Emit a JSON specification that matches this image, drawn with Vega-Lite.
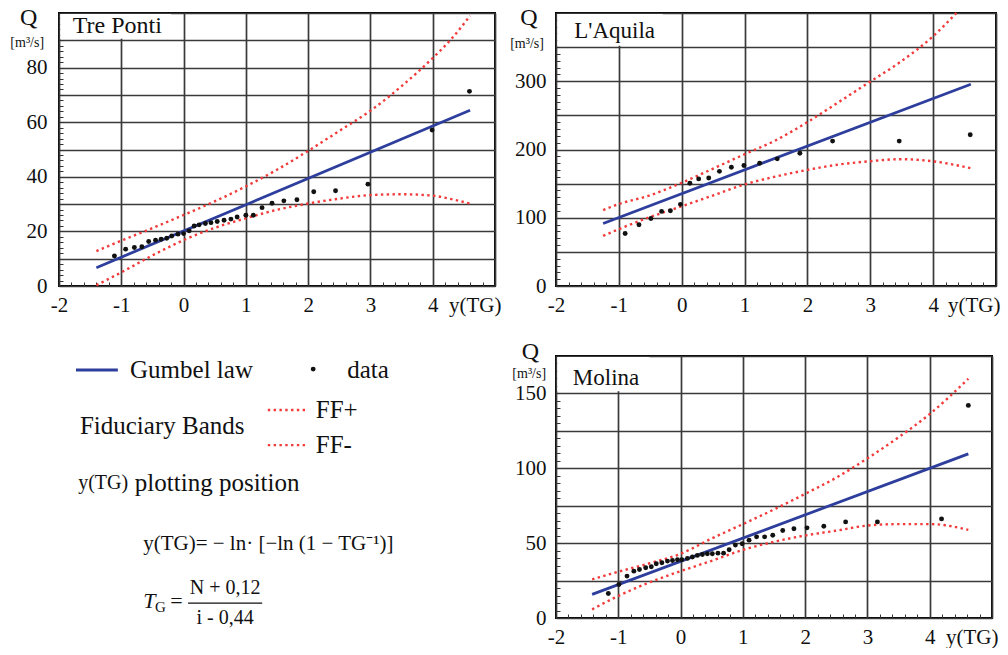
{
  "$schema": "https://vega.github.io/schema/vega-lite/v6.json",
  "background": "white",
  "padding": {"left": 9, "top": 1, "right": 5, "bottom": 0},
  "columns": 2,
  "align": "each",
  "spacing": {"row": 22, "column": 7},
  "datasets": {
    "one": [{}],
    "tp_data": [
      {"yTG": -1.11, "Q": 11.0}, {"yTG": -0.93, "Q": 13.5}, {"yTG": -0.79, "Q": 14.1}, {"yTG": -0.67, "Q": 14.4},
      {"yTG": -0.56, "Q": 16.3}, {"yTG": -0.45, "Q": 16.8}, {"yTG": -0.36, "Q": 17.1}, {"yTG": -0.27, "Q": 17.5},
      {"yTG": -0.19, "Q": 18.3}, {"yTG": -0.09, "Q": 19.0}, {"yTG": 0.0, "Q": 19.2}, {"yTG": 0.09, "Q": 20.2},
      {"yTG": 0.17, "Q": 22.0}, {"yTG": 0.25, "Q": 22.4}, {"yTG": 0.35, "Q": 22.9}, {"yTG": 0.44, "Q": 23.2},
      {"yTG": 0.54, "Q": 23.6}, {"yTG": 0.65, "Q": 24.1}, {"yTG": 0.76, "Q": 24.5}, {"yTG": 0.86, "Q": 25.3},
      {"yTG": 1.0, "Q": 25.9}, {"yTG": 1.12, "Q": 25.9}, {"yTG": 1.26, "Q": 28.7}, {"yTG": 1.42, "Q": 30.3},
      {"yTG": 1.61, "Q": 31.2}, {"yTG": 1.82, "Q": 31.6}, {"yTG": 2.09, "Q": 34.5}, {"yTG": 2.44, "Q": 34.9},
      {"yTG": 2.96, "Q": 37.3}, {"yTG": 3.99, "Q": 57.1}, {"yTG": 4.59, "Q": 71.3}
    ],
    "tp_gum": [{"yTG": -1.4, "Q": 6.7}, {"yTG": 4.6, "Q": 64.4}],
    "tp_ffp": [
      {"yTG": -1.4, "Q": 12.8}, {"yTG": -1.0, "Q": 16.6}, {"yTG": -0.5, "Q": 21.2}, {"yTG": 0.0, "Q": 26.0},
      {"yTG": 0.5, "Q": 31.0}, {"yTG": 1.0, "Q": 36.5}, {"yTG": 1.5, "Q": 42.6}, {"yTG": 2.0, "Q": 49.5},
      {"yTG": 2.5, "Q": 56.8}, {"yTG": 3.0, "Q": 64.2}, {"yTG": 3.5, "Q": 73.2}, {"yTG": 4.0, "Q": 83.5},
      {"yTG": 4.3, "Q": 90.5}, {"yTG": 4.6, "Q": 99.0}
    ],
    "tp_ffm": [
      {"yTG": -1.4, "Q": 0.3}, {"yTG": -1.0, "Q": 5.0}, {"yTG": -0.5, "Q": 11.2}, {"yTG": 0.0, "Q": 16.8},
      {"yTG": 0.5, "Q": 21.3}, {"yTG": 1.0, "Q": 24.8}, {"yTG": 1.5, "Q": 27.9}, {"yTG": 2.0, "Q": 30.2},
      {"yTG": 2.5, "Q": 32.0}, {"yTG": 3.0, "Q": 33.3}, {"yTG": 3.5, "Q": 33.6}, {"yTG": 4.0, "Q": 33.1},
      {"yTG": 4.3, "Q": 31.8}, {"yTG": 4.6, "Q": 30.2}
    ],
    "la_data": [
      {"yTG": -0.90, "Q": 77}, {"yTG": -0.68, "Q": 89.7}, {"yTG": -0.49, "Q": 99}, {"yTG": -0.32, "Q": 109.3},
      {"yTG": -0.18, "Q": 110.3}, {"yTG": -0.02, "Q": 119.6}, {"yTG": 0.13, "Q": 150.5}, {"yTG": 0.27, "Q": 156.9},
      {"yTG": 0.43, "Q": 158.3}, {"yTG": 0.60, "Q": 168}, {"yTG": 0.79, "Q": 174}, {"yTG": 0.99, "Q": 176.5},
      {"yTG": 1.24, "Q": 179.9}, {"yTG": 1.52, "Q": 186.3}, {"yTG": 1.88, "Q": 194.6}, {"yTG": 2.40, "Q": 212.3},
      {"yTG": 3.46, "Q": 212.3}, {"yTG": 4.59, "Q": 221.6}
    ],
    "la_gum": [{"yTG": -1.25, "Q": 91.6}, {"yTG": 4.6, "Q": 295.6}],
    "la_ffp": [
      {"yTG": -1.25, "Q": 111.3}, {"yTG": -1.0, "Q": 120.1}, {"yTG": -0.52, "Q": 132.4}, {"yTG": -0.02, "Q": 150.5},
      {"yTG": 0.49, "Q": 171.6}, {"yTG": 0.99, "Q": 192.6}, {"yTG": 1.49, "Q": 213.2}, {"yTG": 2.0, "Q": 240.2},
      {"yTG": 2.5, "Q": 269.6}, {"yTG": 2.99, "Q": 299}, {"yTG": 3.48, "Q": 328.4}, {"yTG": 3.99, "Q": 365.2},
      {"yTG": 4.37, "Q": 400}
    ],
    "la_ffm": [
      {"yTG": -1.25, "Q": 73.5}, {"yTG": -1.0, "Q": 83.3}, {"yTG": -0.52, "Q": 100.5}, {"yTG": -0.02, "Q": 116.2},
      {"yTG": 0.49, "Q": 132.4}, {"yTG": 0.99, "Q": 148.5}, {"yTG": 1.49, "Q": 160.3}, {"yTG": 2.0, "Q": 170.1},
      {"yTG": 2.5, "Q": 178}, {"yTG": 2.99, "Q": 182.8}, {"yTG": 3.48, "Q": 185.8}, {"yTG": 3.99, "Q": 182.8},
      {"yTG": 4.6, "Q": 172.5}
    ],
    "mo_data": [
      {"yTG": -1.16, "Q": 16.4}, {"yTG": -0.99, "Q": 22.4}, {"yTG": -0.86, "Q": 28}, {"yTG": -0.75, "Q": 31.3},
      {"yTG": -0.66, "Q": 32.4}, {"yTG": -0.56, "Q": 33.6}, {"yTG": -0.47, "Q": 34.2}, {"yTG": -0.39, "Q": 36.2},
      {"yTG": -0.30, "Q": 36.9}, {"yTG": -0.21, "Q": 38}, {"yTG": -0.13, "Q": 38.4}, {"yTG": -0.05, "Q": 38.9},
      {"yTG": 0.02, "Q": 38.9}, {"yTG": 0.11, "Q": 39.8}, {"yTG": 0.19, "Q": 40.7}, {"yTG": 0.27, "Q": 41.8},
      {"yTG": 0.35, "Q": 42.4}, {"yTG": 0.43, "Q": 42.9}, {"yTG": 0.51, "Q": 42.9}, {"yTG": 0.60, "Q": 43.3},
      {"yTG": 0.69, "Q": 43.3}, {"yTG": 0.78, "Q": 45.6}, {"yTG": 0.88, "Q": 48.7}, {"yTG": 0.99, "Q": 49.6},
      {"yTG": 1.10, "Q": 52}, {"yTG": 1.22, "Q": 54.2}, {"yTG": 1.35, "Q": 54.2}, {"yTG": 1.48, "Q": 55.3},
      {"yTG": 1.64, "Q": 58.4}, {"yTG": 1.82, "Q": 59.6}, {"yTG": 2.03, "Q": 60.2}, {"yTG": 2.30, "Q": 61.3},
      {"yTG": 2.65, "Q": 64.2}, {"yTG": 3.16, "Q": 64.2}, {"yTG": 4.19, "Q": 66.2}, {"yTG": 4.62, "Q": 142}
    ],
    "mo_gum": [{"yTG": -1.42, "Q": 15.8}, {"yTG": 4.62, "Q": 109.6}],
    "mo_ffp": [
      {"yTG": -1.42, "Q": 25.8}, {"yTG": -1.0, "Q": 30.9}, {"yTG": -0.51, "Q": 36.4}, {"yTG": 0.0, "Q": 42.9},
      {"yTG": 0.5, "Q": 53.1}, {"yTG": 1.01, "Q": 62.9}, {"yTG": 1.52, "Q": 72.9}, {"yTG": 2.0, "Q": 82.9},
      {"yTG": 2.51, "Q": 94}, {"yTG": 3.01, "Q": 106.9}, {"yTG": 3.5, "Q": 120.7}, {"yTG": 4.02, "Q": 136.9},
      {"yTG": 4.62, "Q": 159.8}
    ],
    "mo_ffm": [
      {"yTG": -1.42, "Q": 5.8}, {"yTG": -1.0, "Q": 14.7}, {"yTG": -0.51, "Q": 23.6}, {"yTG": 0.0, "Q": 31.3},
      {"yTG": 0.5, "Q": 38.2}, {"yTG": 1.01, "Q": 45.6}, {"yTG": 1.52, "Q": 51.1}, {"yTG": 2.0, "Q": 55.1},
      {"yTG": 2.51, "Q": 58.4}, {"yTG": 3.01, "Q": 61.8}, {"yTG": 3.5, "Q": 62.7}, {"yTG": 4.02, "Q": 62.7},
      {"yTG": 4.62, "Q": 58.9}
    ]
  },
  "concat": [
    {
      "width": 436, "height": 273,
      "layer": [
        {"data": {"name": "one"}, "mark": {"type": "rect", "fill": "white"},
          "encoding": {
            "x": {"datum": -1.98, "type": "quantitative", "scale": {"domain": [-2, 5], "nice": false, "zero": false},
              "axis": {"title": null, "tickCount": 200,
                "values": [-2, -1.8, -1.6, -1.4, -1.2, -1, -0.8, -0.6, -0.4, -0.2, 0, 0.2, 0.4, 0.6, 0.8, 1, 1.2, 1.4, 1.6, 1.8, 2, 2.2, 2.4, 2.6, 2.8, 3, 3.2, 3.4, 3.6, 3.8, 4, 4.2, 4.4, 4.6, 4.8, 5],
                "labelExpr": "datum.value === 5 ? 'y(TG)' : (datum.value % 1 === 0 ? '' + datum.value : '')",
                "gridOpacity": {"condition": {"test": "datum.value % 1 === 0", "value": 1}, "value": 0},
                "labelAlign": {"condition": {"test": "datum.value === 5", "value": "right"}, "value": "center"},
                "labelOffset": {"condition": {"test": "datum.value === 5", "value": 6}, "value": 0},
                "labelFlush": false, "labelOverlap": false, "labelBound": false}},
            "x2": {"datum": -0.2},
            "y": {"datum": 90.6, "type": "quantitative", "scale": {"domain": [0, 100], "nice": false, "zero": false},
              "axis": {"title": null, "tickCount": 200,
                "values": [0, 2, 4, 6, 8, 10, 12, 14, 16, 18, 20, 22, 24, 26, 28, 30, 32, 34, 36, 38, 40, 42, 44, 46, 48, 50, 52, 54, 56, 58, 60, 62, 64, 66, 68, 70, 72, 74, 76, 78, 80, 82, 84, 86, 88, 90, 92, 94, 96, 98, 100],
                "gridOpacity": {"condition": {"test": "datum.value % 10 === 0", "value": 1}, "value": 0},
                "labelExpr": "datum.value % 20 === 0 && datum.value < 100 ? '' + datum.value : ''", "labelPadding": 16, "labelOverlap": false}},
            "y2": {"datum": 99.6}}},
        {"data": {"name": "tp_ffp"}, "mark": {"type": "line", "color": "#f23a3a", "strokeWidth": 2.4, "strokeDash": [2.4, 3.4], "interpolate": "monotone"},
          "encoding": {"x": {"field": "yTG", "type": "quantitative"}, "y": {"field": "Q", "type": "quantitative"}}},
        {"data": {"name": "tp_ffm"}, "mark": {"type": "line", "color": "#f23a3a", "strokeWidth": 2.4, "strokeDash": [2.4, 3.4], "interpolate": "monotone"},
          "encoding": {"x": {"field": "yTG", "type": "quantitative"}, "y": {"field": "Q", "type": "quantitative"}}},
        {"data": {"name": "tp_gum"}, "mark": {"type": "line", "color": "#2d3e9c", "strokeWidth": 2.8},
          "encoding": {"x": {"field": "yTG", "type": "quantitative"}, "y": {"field": "Q", "type": "quantitative"}}},
        {"data": {"name": "tp_data"}, "mark": {"type": "point", "filled": true, "color": "#111", "size": 24, "opacity": 1},
          "encoding": {"x": {"field": "yTG", "type": "quantitative"}, "y": {"field": "Q", "type": "quantitative"}}},
        {"data": {"name": "one"}, "mark": {"type": "text", "text": "Tre Ponti", "align": "left", "baseline": "middle", "fontSize": 24},
          "encoding": {"x": {"datum": -1.78}, "y": {"datum": 95.4}}},
        {"data": {"name": "one"}, "mark": {"type": "text", "text": "Q", "align": "center", "baseline": "middle", "fontSize": 24},
          "encoding": {"x": {"datum": -2.485}, "y": {"datum": 98.2}}},
        {"data": {"name": "one"}, "mark": {"type": "text", "text": "[m³/s]", "align": "center", "baseline": "middle", "fontSize": 14},
          "encoding": {"x": {"datum": -2.51}, "y": {"datum": 89}}}
      ]
    },
    {
      "width": 440, "height": 273,
      "layer": [
        {"data": {"name": "one"}, "mark": {"type": "rect", "fill": "white"},
          "encoding": {
            "x": {"datum": -1.98, "type": "quantitative", "scale": {"domain": [-2, 5], "nice": false, "zero": false},
              "axis": {"title": null, "tickCount": 200,
                "values": [-2, -1.8, -1.6, -1.4, -1.2, -1, -0.8, -0.6, -0.4, -0.2, 0, 0.2, 0.4, 0.6, 0.8, 1, 1.2, 1.4, 1.6, 1.8, 2, 2.2, 2.4, 2.6, 2.8, 3, 3.2, 3.4, 3.6, 3.8, 4, 4.2, 4.4, 4.6, 4.8, 5],
                "labelExpr": "datum.value === 5 ? 'y(TG)' : (datum.value % 1 === 0 ? '' + datum.value : '')",
                "gridOpacity": {"condition": {"test": "datum.value % 1 === 0", "value": 1}, "value": 0},
                "labelAlign": {"condition": {"test": "datum.value === 5", "value": "right"}, "value": "center"},
                "labelOffset": {"condition": {"test": "datum.value === 5", "value": 4}, "value": 0},
                "labelFlush": false, "labelOverlap": false, "labelBound": false}},
            "x2": {"datum": -0.3},
            "y": {"datum": 352, "type": "quantitative", "scale": {"domain": [0, 400], "nice": false, "zero": false},
              "axis": {"title": null, "tickCount": 200,
                "values": [0, 10, 20, 30, 40, 50, 60, 70, 80, 90, 100, 110, 120, 130, 140, 150, 160, 170, 180, 190, 200, 210, 220, 230, 240, 250, 260, 270, 280, 290, 300, 310, 320, 330, 340, 350, 360, 370, 380, 390, 400],
                "gridOpacity": {"condition": {"test": "datum.value % 50 === 0", "value": 1}, "value": 0},
                "labelExpr": "datum.value % 100 === 0 && datum.value < 400 ? '' + datum.value : ''", "labelPadding": 14, "labelOverlap": false}},
            "y2": {"datum": 398.5}}},
        {"data": {"name": "la_ffp"}, "mark": {"type": "line", "color": "#f23a3a", "strokeWidth": 2.4, "strokeDash": [2.4, 3.4], "interpolate": "monotone"},
          "encoding": {"x": {"field": "yTG", "type": "quantitative"}, "y": {"field": "Q", "type": "quantitative"}}},
        {"data": {"name": "la_ffm"}, "mark": {"type": "line", "color": "#f23a3a", "strokeWidth": 2.4, "strokeDash": [2.4, 3.4], "interpolate": "monotone"},
          "encoding": {"x": {"field": "yTG", "type": "quantitative"}, "y": {"field": "Q", "type": "quantitative"}}},
        {"data": {"name": "la_gum"}, "mark": {"type": "line", "color": "#2d3e9c", "strokeWidth": 2.8},
          "encoding": {"x": {"field": "yTG", "type": "quantitative"}, "y": {"field": "Q", "type": "quantitative"}}},
        {"data": {"name": "la_data"}, "mark": {"type": "point", "filled": true, "color": "#111", "size": 24, "opacity": 1},
          "encoding": {"x": {"field": "yTG", "type": "quantitative"}, "y": {"field": "Q", "type": "quantitative"}}},
        {"data": {"name": "one"}, "mark": {"type": "text", "text": "L'Aquila", "align": "left", "baseline": "middle", "fontSize": 23},
          "encoding": {"x": {"datum": -1.71}, "y": {"datum": 373.6}}},
        {"data": {"name": "one"}, "mark": {"type": "text", "text": "Q", "align": "center", "baseline": "middle", "fontSize": 24},
          "encoding": {"x": {"datum": -2.43}, "y": {"datum": 392}}},
        {"data": {"name": "one"}, "mark": {"type": "text", "text": "[m³/s]", "align": "center", "baseline": "middle", "fontSize": 14},
          "encoding": {"x": {"datum": -2.46}, "y": {"datum": 354}}}
      ]
    },
    {
      "width": 436, "height": 262,
      "view": {"stroke": null},
      "data": {"name": "one"},
      "layer": [
        {"mark": {"type": "rule", "color": "#2d3e9c", "strokeWidth": 3},
          "encoding": {"x": {"datum": 3.9, "type": "quantitative", "scale": {"domain": [0, 100]}, "axis": null}, "x2": {"datum": 13.5},
            "y": {"datum": 94.7, "type": "quantitative", "scale": {"domain": [0, 100]}, "axis": null}}},
        {"mark": {"type": "text", "text": "Gumbel law", "align": "left", "baseline": "middle", "fontSize": 25},
          "encoding": {"x": {"datum": 16.3, "axis": null}, "y": {"datum": 94.7, "axis": null}}},
        {"mark": {"type": "point", "filled": true, "color": "#111", "size": 24, "opacity": 1},
          "encoding": {"x": {"datum": 58.3, "axis": null}, "y": {"datum": 95, "axis": null}}},
        {"mark": {"type": "text", "text": "data", "align": "left", "baseline": "middle", "fontSize": 25},
          "encoding": {"x": {"datum": 66.1, "axis": null}, "y": {"datum": 94.7, "axis": null}}},
        {"mark": {"type": "text", "text": "Fiduciary Bands", "align": "left", "baseline": "middle", "fontSize": 25},
          "encoding": {"x": {"datum": 4.8, "axis": null}, "y": {"datum": 73.3, "axis": null}}},
        {"mark": {"type": "rule", "color": "#f23a3a", "strokeWidth": 2.4, "strokeDash": [2.4, 3.4]},
          "encoding": {"x": {"datum": 47.9, "axis": null}, "x2": {"datum": 57.1}, "y": {"datum": 79.4, "axis": null}}},
        {"mark": {"type": "text", "text": "FF+", "align": "left", "baseline": "middle", "fontSize": 25},
          "encoding": {"x": {"datum": 58.9, "axis": null}, "y": {"datum": 79.4, "axis": null}}},
        {"mark": {"type": "rule", "color": "#f23a3a", "strokeWidth": 2.4, "strokeDash": [2.4, 3.4]},
          "encoding": {"x": {"datum": 47.9, "axis": null}, "x2": {"datum": 57.1}, "y": {"datum": 66.0, "axis": null}}},
        {"mark": {"type": "text", "text": "FF-", "align": "left", "baseline": "middle", "fontSize": 25},
          "encoding": {"x": {"datum": 58.9, "axis": null}, "y": {"datum": 66.0, "axis": null}}},
        {"mark": {"type": "text", "text": "y(TG)", "align": "left", "baseline": "middle", "fontSize": 20},
          "encoding": {"x": {"datum": 4.4, "axis": null}, "y": {"datum": 51.5, "axis": null}}},
        {"mark": {"type": "text", "text": "plotting position", "align": "left", "baseline": "middle", "fontSize": 25},
          "encoding": {"x": {"datum": 17.4, "axis": null}, "y": {"datum": 51.5, "axis": null}}},
        {"mark": {"type": "text", "text": "y(TG)= − ln· [−ln (1 − TG⁻¹)]", "align": "left", "baseline": "middle", "fontSize": 21},
          "encoding": {"x": {"datum": 19.3, "axis": null}, "y": {"datum": 28.2, "axis": null}}},
        {"mark": {"type": "text", "text": "T", "align": "left", "baseline": "middle", "fontSize": 22, "fontStyle": "italic"},
          "encoding": {"x": {"datum": 19.3, "axis": null}, "y": {"datum": 6.5, "axis": null}}},
        {"mark": {"type": "text", "text": "G", "align": "left", "baseline": "middle", "fontSize": 15},
          "encoding": {"x": {"datum": 22.0, "axis": null}, "y": {"datum": 4.3, "axis": null}}},
        {"mark": {"type": "text", "text": "=", "align": "left", "baseline": "middle", "fontSize": 22},
          "encoding": {"x": {"datum": 25.5, "axis": null}, "y": {"datum": 6.5, "axis": null}}},
        {"mark": {"type": "text", "text": "N + 0,12", "align": "center", "baseline": "middle", "fontSize": 20},
          "encoding": {"x": {"datum": 38.1, "axis": null}, "y": {"datum": 11.5, "axis": null}}},
        {"mark": {"type": "rule", "color": "#111", "strokeWidth": 1.3},
          "encoding": {"x": {"datum": 29.6, "axis": null}, "x2": {"datum": 46.6}, "y": {"datum": 5.7, "axis": null}}},
        {"mark": {"type": "text", "text": "i - 0,44", "align": "center", "baseline": "middle", "fontSize": 20},
          "encoding": {"x": {"datum": 38.1, "axis": null}, "y": {"datum": 0, "axis": null}}}
      ]
    },
    {
      "width": 436, "height": 262,
      "layer": [
        {"data": {"name": "one"}, "mark": {"type": "rect", "fill": "white"},
          "encoding": {
            "x": {"datum": -1.98, "type": "quantitative", "scale": {"domain": [-2, 5], "nice": false, "zero": false},
              "axis": {"title": null, "tickCount": 200,
                "values": [-2, -1.8, -1.6, -1.4, -1.2, -1, -0.8, -0.6, -0.4, -0.2, 0, 0.2, 0.4, 0.6, 0.8, 1, 1.2, 1.4, 1.6, 1.8, 2, 2.2, 2.4, 2.6, 2.8, 3, 3.2, 3.4, 3.6, 3.8, 4, 4.2, 4.4, 4.6, 4.8, 5],
                "labelExpr": "datum.value === 5 ? 'y(TG)' : (datum.value % 1 === 0 ? '' + datum.value : '')",
                "gridOpacity": {"condition": {"test": "datum.value % 1 === 0", "value": 1}, "value": 0},
                "labelAlign": {"condition": {"test": "datum.value === 5", "value": "right"}, "value": "center"},
                "labelOffset": {"condition": {"test": "datum.value === 5", "value": 6}, "value": 0},
                "labelFlush": false, "labelOverlap": false, "labelBound": false}},
            "x2": {"datum": -0.5},
            "y": {"datum": 151.5, "type": "quantitative", "scale": {"domain": [0, 175], "nice": false, "zero": false},
              "axis": {"title": null, "tickCount": 200,
                "values": [0, 5, 10, 15, 20, 25, 30, 35, 40, 45, 50, 55, 60, 65, 70, 75, 80, 85, 90, 95, 100, 105, 110, 115, 120, 125, 130, 135, 140, 145, 150, 155, 160, 165, 170, 175],
                "gridOpacity": {"condition": {"test": "datum.value % 25 === 0", "value": 1}, "value": 0},
                "labelExpr": "datum.value % 50 === 0 && datum.value < 175 ? '' + datum.value : ''", "labelPadding": 14, "labelOverlap": false}},
            "y2": {"datum": 174.3}}},
        {"data": {"name": "mo_ffp"}, "mark": {"type": "line", "color": "#f23a3a", "strokeWidth": 2.4, "strokeDash": [2.4, 3.4], "interpolate": "monotone"},
          "encoding": {"x": {"field": "yTG", "type": "quantitative"}, "y": {"field": "Q", "type": "quantitative"}}},
        {"data": {"name": "mo_ffm"}, "mark": {"type": "line", "color": "#f23a3a", "strokeWidth": 2.4, "strokeDash": [2.4, 3.4], "interpolate": "monotone"},
          "encoding": {"x": {"field": "yTG", "type": "quantitative"}, "y": {"field": "Q", "type": "quantitative"}}},
        {"data": {"name": "mo_gum"}, "mark": {"type": "line", "color": "#2d3e9c", "strokeWidth": 2.8},
          "encoding": {"x": {"field": "yTG", "type": "quantitative"}, "y": {"field": "Q", "type": "quantitative"}}},
        {"data": {"name": "mo_data"}, "mark": {"type": "point", "filled": true, "color": "#111", "size": 24, "opacity": 1},
          "encoding": {"x": {"field": "yTG", "type": "quantitative"}, "y": {"field": "Q", "type": "quantitative"}}},
        {"data": {"name": "one"}, "mark": {"type": "text", "text": "Molina", "align": "left", "baseline": "middle", "fontSize": 23},
          "encoding": {"x": {"datum": -1.73}, "y": {"datum": 160.5}}},
        {"data": {"name": "one"}, "mark": {"type": "text", "text": "Q", "align": "center", "baseline": "middle", "fontSize": 24},
          "encoding": {"x": {"datum": -2.41}, "y": {"datum": 177.8}}},
        {"data": {"name": "one"}, "mark": {"type": "text", "text": "[m³/s]", "align": "center", "baseline": "middle", "fontSize": 14},
          "encoding": {"x": {"datum": -2.43}, "y": {"datum": 162.8}}}
      ]
    }
  ],
  "config": {
    "font": "Liberation Serif, Times New Roman, serif",
    "view": {"stroke": "#000", "strokeWidth": 2},
    "axis": {"domain": false, "ticks": true, "tickSize": -4, "tickColor": "#333", "tickWidth": 1, "grid": true, "gridColor": "#3a3a3a", "gridWidth": 1.7,
      "labelFont": "Liberation Serif, Times New Roman, serif", "labelFontSize": 21, "labelColor": "#111", "labelPadding": 12},
    "text": {"font": "Liberation Serif, Times New Roman, serif", "color": "#111"}
  }
}
